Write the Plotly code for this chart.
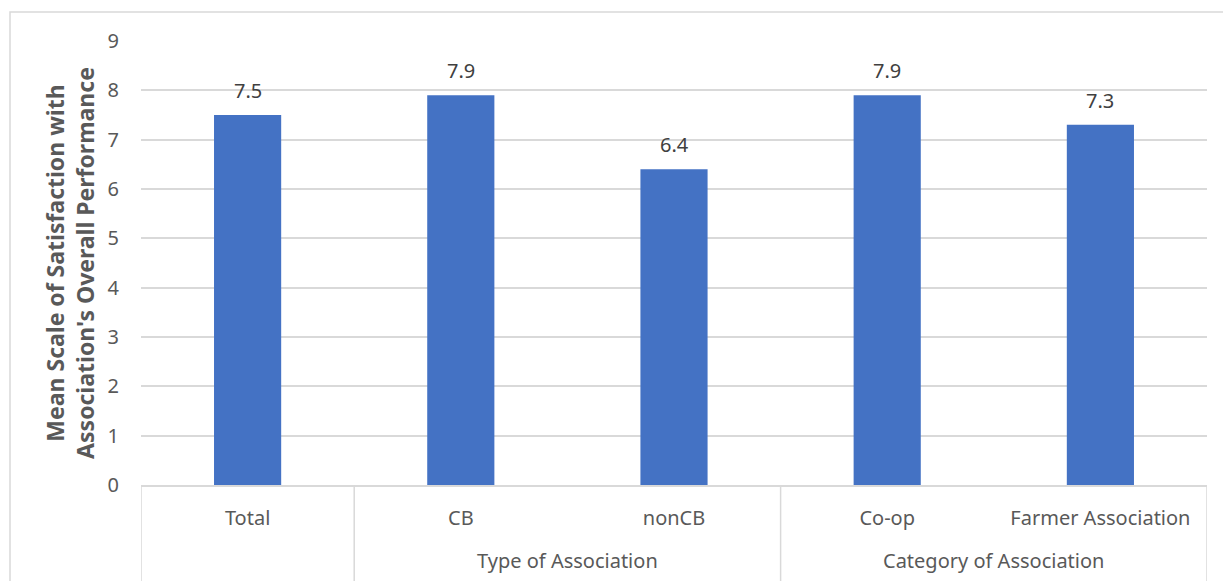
import plotly.graph_objects as go

# Survey results: mean satisfaction score per group
categories = ["Total", "CB", "nonCB", "Co-op", "Farmer Association"]
groups = [None, "Type of Association", "Type of Association",
          "Category of Association", "Category of Association"]
mean_scores = [7.5, 7.9, 6.4, 7.9, 7.3]
y_ticks = [0, 1, 2, 3, 4, 5, 6, 7, 8, 9]

W, H = 1223, 581
L, R, T, B = 141, 16, 41, 96
pw, ph = W - L - R, H - T - B

font_family = "'Noto Sans', 'Open Sans', sans-serif"
label_color = "#595959"
grid_color = "#d9d9d9"
fs = 20

fig = go.Figure(
    go.Bar(
        x=categories,
        y=mean_scores,
        marker=dict(color="#4472c4", line=dict(width=0)),
        width=0.315,
        cliponaxis=False,
    )
)

# Value labels above each bar
for cat, v in zip(categories, mean_scores):
    fig.add_annotation(
        x=cat, y=v, xref="x", yref="y",
        text=f"{v:.1f}", showarrow=False,
        yanchor="bottom", yshift=9,
        font=dict(size=fs, color="#404040", family=font_family),
    )

# Group labels and divider lines under the category axis
blocks = []
for i, g in enumerate(groups):
    if blocks and blocks[-1][0] == g:
        blocks[-1][2] = i
    else:
        blocks.append([g, i, i])

line_bottom = -(H + 5 - T - ph) / ph
edges = sorted({b[1] - 0.5 for b in blocks} | {b[2] + 0.5 for b in blocks})
for e in edges:
    fig.add_shape(
        type="line", xref="x", yref="paper",
        x0=e, x1=e, y0=0, y1=line_bottom,
        line=dict(color=grid_color, width=1.5),
    )
for g, i0, i1 in blocks:
    if g is None:
        continue
    fig.add_annotation(
        x=(i0 + i1) / 2, y=0, xref="x", yref="paper",
        text=g, showarrow=False, yanchor="middle", yshift=-75,
        font=dict(size=fs, color=label_color, family=font_family),
    )

fig.update_layout(
    width=W,
    height=H,
    margin=dict(l=L, r=R, t=T, b=B),
    paper_bgcolor="white",
    plot_bgcolor="white",
    showlegend=False,
    font=dict(family=font_family, color=label_color, size=fs),
    xaxis=dict(
        type="category",
        range=[-0.5, len(categories) - 0.5],
        showline=True,
        linecolor=grid_color,
        linewidth=1.5,
        ticks="",
        ticklabelstandoff=14,
        showgrid=False,
        tickfont=dict(size=fs, color=label_color),
    ),
    yaxis=dict(
        range=[0, 9],
        tickvals=y_ticks,
        showgrid=True,
        gridcolor=grid_color,
        gridwidth=1.5,
        zeroline=False,
        showline=False,
        ticks="",
        ticklabelstandoff=21,
        tickfont=dict(size=fs, color=label_color),
        title=dict(
            text="<b>Mean Scale of Satisfaction with<br>Association's Overall Performance</b>",
            font=dict(size=23, color=label_color),
            standoff=6,
        ),
    ),
)

# Outer chart frame
fig.add_shape(
    type="rect",
    xref="paper", yref="paper",
    x0=(10 - L) / pw, x1=(W + 5 - L) / pw,
    y0=line_bottom, y1=1 + (T - 12) / ph,
    line=dict(color=grid_color, width=1.5),
    fillcolor="rgba(0,0,0,0)",
    layer="below",
)

fig.write_html("out.html")
